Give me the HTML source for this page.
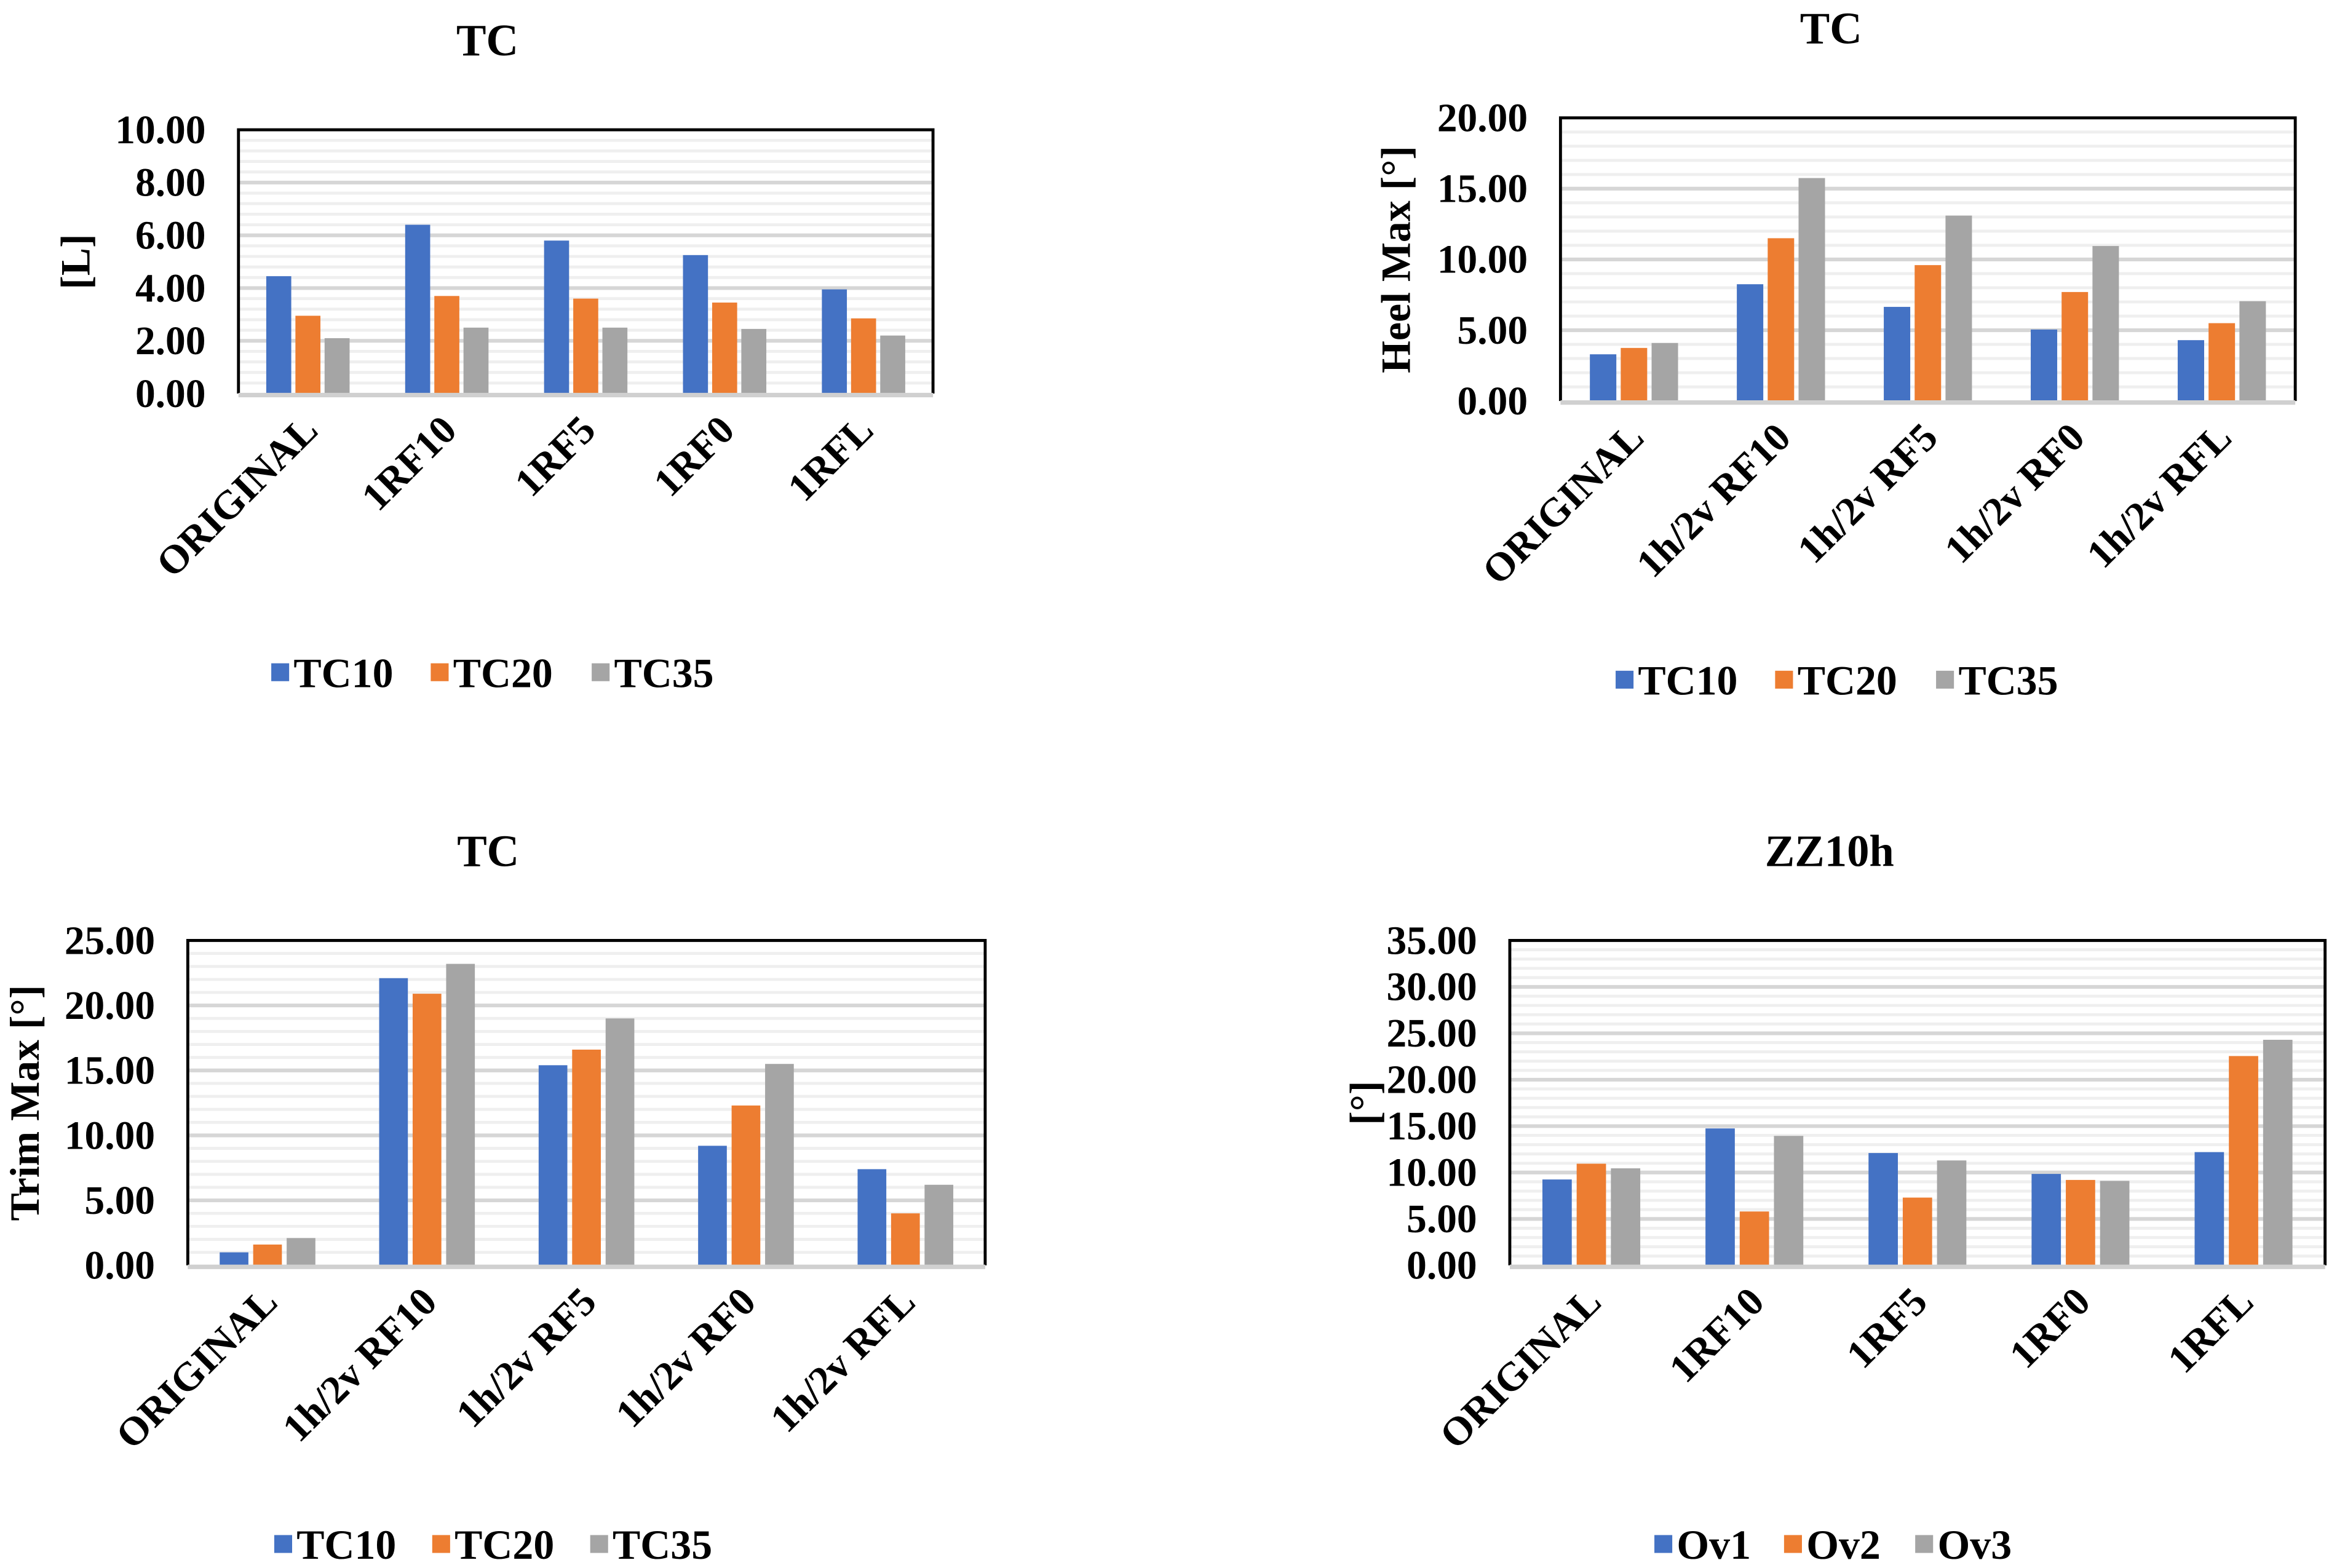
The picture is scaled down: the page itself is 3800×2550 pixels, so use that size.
<!DOCTYPE html>
<html><head><meta charset="utf-8">
<style>
html,body{margin:0;padding:0;background:#fff;}
svg{display:block;}
text{font-family:"Liberation Serif",serif;font-weight:bold;fill:#000;}
</style></head>
<body>
<svg id="root" width="3800" height="2550" viewBox="0 0 1568 1052" xmlns="http://www.w3.org/2000/svg"></svg>
<script>
// Chart 1
const c1Categories = ["ORIGINAL","1RF10","1RF5","1RF0","1RFL"];
const c1TC10 = [4.45,6.4,5.8,5.25,3.95];
const c1TC20 = [2.95,3.7,3.6,3.45,2.85];
const c1TC35 = [2.1,2.5,2.5,2.45,2.2];
const c1Ticks = ["0.00","2.00","4.00","6.00","8.00","10.00"];
// Chart 2
const c2Categories = ["ORIGINAL","1h/2v RF10","1h/2v RF5","1h/2v RF0","1h/2v RFL"];
const c2TC10 = [3.3,8.25,6.65,5.05,4.3];
const c2TC20 = [3.75,11.5,9.6,7.7,5.5];
const c2TC35 = [4.1,15.75,13.1,10.95,7.05];
const c2Ticks = ["0.00","5.00","10.00","15.00","20.00"];
// Chart 3
const c3Categories = ["ORIGINAL","1h/2v RF10","1h/2v RF5","1h/2v RF0","1h/2v RFL"];
const c3TC10 = [1.0,22.1,15.4,9.2,7.4];
const c3TC20 = [1.6,20.9,16.6,12.3,4.0];
const c3TC35 = [2.1,23.2,19.0,15.5,6.2];
const c3Ticks = ["0.00","5.00","10.00","15.00","20.00","25.00"];
// Chart 4
const c4Categories = ["ORIGINAL","1RF10","1RF5","1RF0","1RFL"];
const c4Ov1 = [9.25,14.75,12.1,9.85,12.2];
const c4Ov2 = [10.95,5.8,7.3,9.2,22.55];
const c4Ov3 = [10.45,13.95,11.3,9.1,24.3];
const c4Ticks = ["0.00","5.00","10.00","15.00","20.00","25.00","30.00","35.00"];

const COLORS = ["#4472c4","#ed7d31","#a5a5a5"];
const NS = "http://www.w3.org/2000/svg";
const root = document.getElementById('root');
function mk(tag, attrs, parent){
  const e = document.createElementNS(NS, tag);
  for (const k in attrs) e.setAttribute(k, attrs[k]);
  parent.appendChild(e);
  return e;
}

function drawChart(cfg){
  const g = mk('g', {}, root);
  
  
  const {x0,x1,y0,y1} = cfg;
  const tickVals = cfg.ticks.map(Number);
  const maxV = tickVals[tickVals.length-1];
  const step = tickVals[1]-tickVals[0];
  const yS = v => y1 - (v/maxV)*(y1-y0);
  const n = cfg.categories.length;
  const gw = (x1-x0)/n;
  const xC = i => x0 + gw*(i+0.5);

  const t = mk('text', {x:(x0+x1)/2 + (cfg.titleDx||0), y:cfg.titleY, 'text-anchor':'middle', 'font-size':30}, g);
  t.textContent = cfg.title;
  
  

  const minor = step/5;
  for (let v = minor; v < maxV - 1e-9; v += minor){
    if (Math.abs(v/step - Math.round(v/step)) < 1e-6) continue;
    const l = mk('line', {x1:x0, x2:x1, y1:yS(v), y2:yS(v), stroke:'#efefef', 'stroke-width':2}, g);
    
    
  }
  cfg.ticks.forEach((lab, i) => {
    const v = tickVals[i];
    if (v > 0 && v < maxV){
      const l = mk('line', {x1:x0, x2:x1, y1:yS(v), y2:yS(v), stroke:'#d6d6d6', 'stroke-width':2.5}, g);
      
      
    }
    const tx = mk('text', {x:x0-22, y:yS(v)+9, 'text-anchor':'end', 'font-size':27}, g);
    tx.textContent = lab;
    
    
  });

  const bw = gw*0.18, gap = gw*0.03;
  cfg.series.forEach((s, si) => {
    s.values.forEach((v, i) => {
      const bx = xC(i) - (1.5*bw + gap) + si*(bw+gap);
      const r = mk('rect', {x:bx, y:yS(v), width:bw, height:y1-yS(v), fill:COLORS[si]}, g);
      
      
    });
  });

  const f = mk('path', {d:`M${x0},${y1} L${x0},${y0} L${x1},${y0} L${x1},${y1}`, fill:'none', stroke:'#000', 'stroke-width':2}, g);
  
  
  const ax = mk('line', {x1:x0, x2:x1, y1:y1+1, y2:y1+1, stroke:'#d0d0d0', 'stroke-width':3}, g);
  
  

  cfg.categories.forEach((c, i) => {
    const cx = xC(i) + 8, cy = y1 + 26;
    const tx = mk('text', {x:cx, y:cy, 'text-anchor':'end', 'font-size':27, transform:`rotate(-45 ${cx} ${cy})`}, g);
    tx.textContent = c;
    
    
  });

  const yt = mk('text', {x:cfg.yTitleX, y:(y0+y1)/2, 'text-anchor':'middle', 'font-size':28, transform:`rotate(-90 ${cfg.yTitleX} ${(y0+y1)/2})`}, g);
  yt.textContent = cfg.yTitle;
  
  

  cfg.series.forEach((s, si) => {
    const lx = cfg.legendX[si];
    const sq = mk('rect', {x:lx-6, y:cfg.legendY-6, width:12, height:12, fill:COLORS[si]}, g);
    
    
    const lt = mk('text', {x:lx+9, y:cfg.legendY+10, 'font-size':28}, g);
    lt.textContent = s.name;
    
    
  });
}

drawChart({name:'chart-l-top-left', title:'TC', titleY:37, x0:160, x1:626, y0:87, y1:264, titleDx:-66,
  ticks:c1Ticks, categories:c1Categories, yTitle:'[L]', yTitleX:60,
  series:[{name:'TC10',values:c1TC10},{name:'TC20',values:c1TC20},{name:'TC35',values:c1TC35}],
  legendX:[188,295,403], legendY:451});
drawChart({name:'chart-heel-top-right', title:'TC', titleY:29, x0:1047, x1:1540, y0:79, y1:269, titleDx:-65,
  ticks:c2Ticks, categories:c2Categories, yTitle:'Heel Max [°]', yTitleX:946,
  series:[{name:'TC10',values:c2TC10},{name:'TC20',values:c2TC20},{name:'TC35',values:c2TC35}],
  legendX:[1090,1197,1305], legendY:456});
drawChart({name:'chart-trim-bottom-left', title:'TC', titleY:581, x0:126, x1:661, y0:631, y1:849, titleDx:-66,
  ticks:c3Ticks, categories:c3Categories, yTitle:'Trim Max [°]', yTitleX:26,
  series:[{name:'TC10',values:c3TC10},{name:'TC20',values:c3TC20},{name:'TC35',values:c3TC35}],
  legendX:[190,296,402], legendY:1036});
drawChart({name:'chart-zz10h-bottom-right', title:'ZZ10h', titleY:581, x0:1013, x1:1560, y0:631, y1:849, titleDx:-59,
  ticks:c4Ticks, categories:c4Categories, yTitle:'[°]', yTitleX:925,
  series:[{name:'Ov1',values:c4Ov1},{name:'Ov2',values:c4Ov2},{name:'Ov3',values:c4Ov3}],
  legendX:[1116,1203,1291], legendY:1036});
</script>
</body></html>
